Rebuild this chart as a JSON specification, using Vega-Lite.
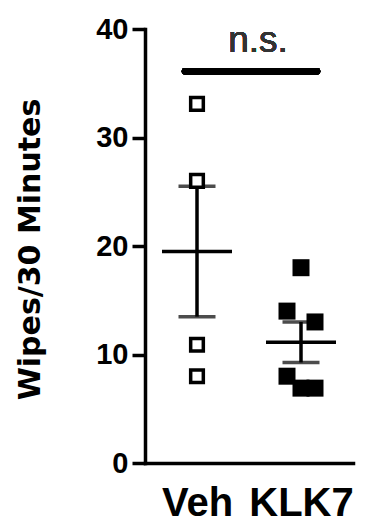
{
  "$schema": "https://vega.github.io/schema/vega-lite/v6.json",
  "width": 208,
  "height": 434,
  "autosize": {"type": "none"},
  "padding": {"left": 145, "top": 29, "right": 12, "bottom": 59},
  "background": "white",
  "config": {"view": {"stroke": null}},
  "data": {
    "values": [
      {"group": "Veh", "value": 33.1, "jitter": 0},
      {"group": "Veh", "value": 26.0, "jitter": 0},
      {"group": "Veh", "value": 10.9, "jitter": 0},
      {"group": "Veh", "value": 8.0, "jitter": 0},
      {"group": "KLK7", "value": 18.0, "jitter": 0},
      {"group": "KLK7", "value": 14.0, "jitter": -1},
      {"group": "KLK7", "value": 13.0, "jitter": 1},
      {"group": "KLK7", "value": 8.0, "jitter": -1},
      {"group": "KLK7", "value": 6.9, "jitter": 0},
      {"group": "KLK7", "value": 6.9, "jitter": 1}
    ]
  },
  "encoding": {
    "x": {
      "field": "group",
      "type": "nominal",
      "sort": ["Veh", "KLK7"],
      "scale": {"type": "point", "padding": 0.5},
      "axis": {
        "title": null,
        "ticks": false,
        "tickSize": 0,
        "domainColor": "black",
        "domainWidth": 3.5,
        "domainCap": "square",
        "labelFont": "Liberation Sans",
        "labelFontWeight": "bold",
        "labelFontSize": 40,
        "labelColor": "black",
        "labelBaseline": "alphabetic",
        "labelPadding": 52,
        "labelAngle": 0,
        "labelOverlap": false,
        "labelBound": false,
        "labelFlush": false
      }
    }
  },
  "layer": [
    {
      "mark": {"type": "errorbar", "extent": "stderr", "color": "black", "ticks": {"size": 37, "thickness": 3.5, "color": "black"}, "rule": {"strokeWidth": 3.5}},
      "encoding": {
        "y": {
          "field": "value",
          "type": "quantitative",
          "scale": {"domain": [0, 40], "nice": false},
          "axis": {
            "title": "Wipes/30 Minutes",
            "values": [0, 10, 20, 30, 40],
            "grid": false,
            "domainColor": "black",
            "domainWidth": 3.5,
            "domainCap": "square",
            "tickColor": "black",
            "tickWidth": 3.5,
            "tickSize": 13,
            "labelFont": "Liberation Sans",
            "labelFontWeight": "bold",
            "labelFontSize": 29,
            "labelColor": "black",
            "labelPadding": 4,
            "labelBaseline": "middle",
            "titleFont": "DejaVu Sans",
            "titleFontWeight": "bold",
            "titleFontSize": 30,
            "titleColor": "black",
            "titleAngle": -90,
            "titleBaseline": "alphabetic",
            "titleAlign": "center",
            "titleX": -106,
            "titleY": 220
          }
        }
      }
    },
    {
      "mark": {"type": "tick", "color": "black", "size": 70, "thickness": 3.5},
      "encoding": {
        "y": {"aggregate": "mean", "field": "value", "type": "quantitative"}
      }
    },
    {
      "transform": [{"filter": "datum.group === 'Veh'"}],
      "mark": {"type": "point", "shape": "square", "filled": false, "fill": "white", "fillOpacity": 1, "stroke": "black", "strokeWidth": 3.5, "size": 160, "opacity": 1},
      "encoding": {
        "y": {"field": "value", "type": "quantitative"},
        "xOffset": {"field": "jitter", "type": "quantitative", "scale": {"domain": [-1, 1], "range": [-14, 14]}}
      }
    },
    {
      "transform": [{"filter": "datum.group === 'KLK7'"}],
      "mark": {"type": "point", "shape": "square", "filled": true, "color": "black", "size": 289, "opacity": 1},
      "encoding": {
        "y": {"field": "value", "type": "quantitative"},
        "xOffset": {"field": "jitter", "type": "quantitative", "scale": {"domain": [-1, 1], "range": [-14, 14]}}
      }
    },
    {
      "mark": {"type": "rule", "color": "black", "strokeWidth": 6.5, "strokeCap": "round", "xOffset": -12, "x2Offset": 16},
      "encoding": {
        "x": {"datum": "Veh"},
        "x2": {"datum": "KLK7"},
        "y": {"datum": 36.1}
      }
    },
    {
      "mark": {"type": "text", "text": "n.s.", "font": "Liberation Sans", "fontSize": 37, "color": "#333333", "baseline": "alphabetic", "align": "center", "dx": 61},
      "encoding": {
        "x": {"datum": "Veh"},
        "y": {"datum": 37.9}
      }
    }
  ]
}
